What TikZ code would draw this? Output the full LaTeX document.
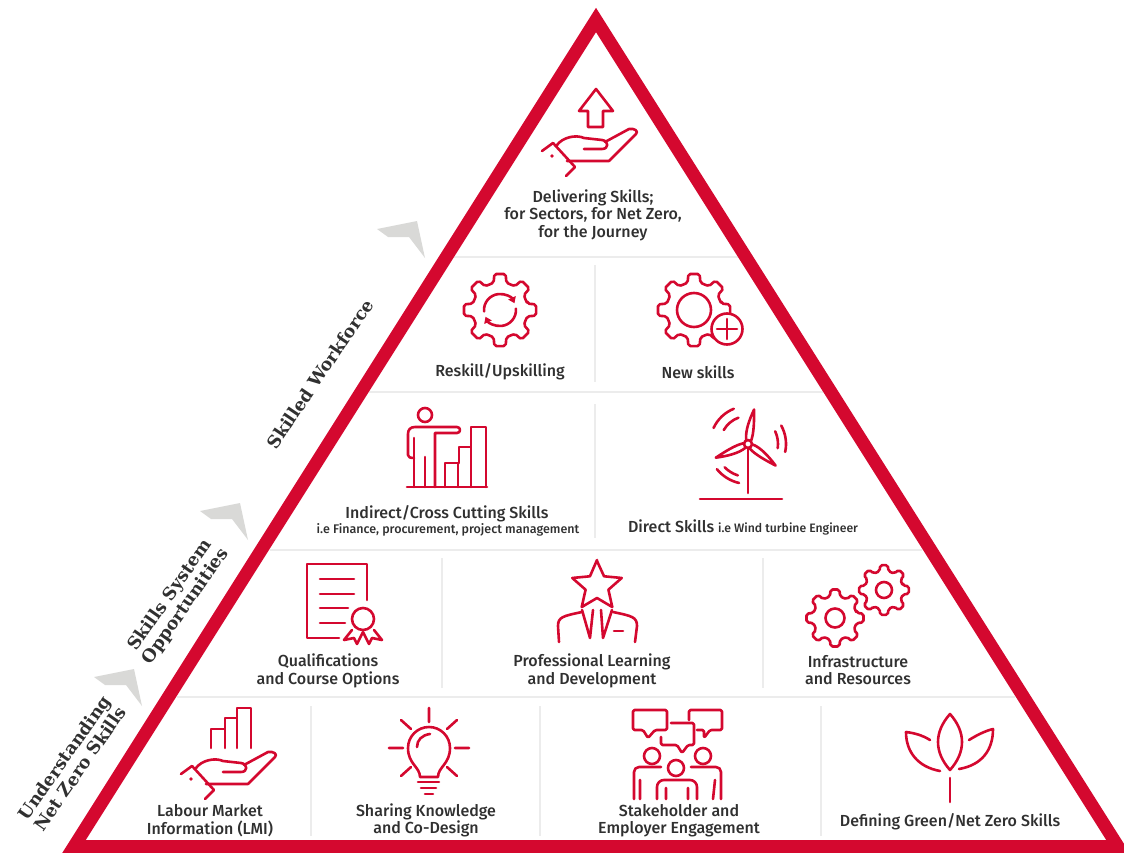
\documentclass[tikz,border=0pt]{standalone}
\usepackage{xcolor}
\usepackage{fontspec}
\setmainfont{Fira Sans Medium}
\newfontfamily\slabfont{DejaVu Serif}
\usetikzlibrary{arrows.meta}
\definecolor{pyrred}{HTML}{D4082F}
\definecolor{pyrgrey}{HTML}{ECECEC}
\definecolor{chevgrey}{HTML}{D9D9D7}
\definecolor{pyrtext}{HTML}{303030}
\tikzset{
	icon/.style = {draw=pyrred, line width=2.6pt, line join=round, line cap=round},
	rowline/.style = {draw=pyrgrey, line width=2.6pt},
	colline/.style = {draw=pyrgrey, line width=1.8pt},
	chev/.style = {fill=chevgrey, draw=none},
	lbl/.style = {text=pyrtext, font=\fontsize{16}{17.4}\selectfont, align=center, inner sep=0pt},
	side/.style = {text=pyrtext, font=\slabfont\bfseries\fontsize{17.5}{19}\selectfont, align=center, inner sep=0pt},
	gearicon/.pic = {
		\draw[icon, rounded corners=2pt] (-13:28) \foreach \a in {0,45,...,315} {-- (\a-9:36.5) -- (\a+9:36.5) -- (\a+13:28) -- (\a+32:28)} -- cycle;
	},
	handicon/.pic = {
		\draw[icon] (-45,-2) -- (-34,-10) -- (-12,14) -- (-21,23);
		\fill[pyrred] (-35,3) circle (1.8);
		\draw[icon] (-30,-8) .. controls (-25,-15) and (-12,-19) .. (-3,-15) -- (15,-13) .. controls (22,-12) and (22,-4) .. (15,-4) -- (-3,-4);
		\draw[icon] (18,-11) -- (42,-24) .. controls (47,-25) and (52,-22) .. (49,-19) -- (22,8) -- (-20,8);
	}
}

\begin{document}
\begin{tikzpicture}[x=1pt, y=-1pt]
	\useasboundingbox (0,0) rectangle (1124,853);

	% row and column rules
	\draw[rowline] (454,257) -- (738,257);
	\draw[rowline] (369,392) -- (823,392);
	\draw[rowline] (270,550) -- (922,550);
	\draw[rowline] (177,697) -- (1015,697);
	\draw[colline] (595,265) -- (595,382);
	\draw[colline] (595,404) -- (595,538);
	\foreach \x in {442,763} \draw[colline] (\x,558) -- (\x,688);
	\foreach \x in {311,540,821} \draw[colline] (\x,706) -- (\x,836);

	\draw[pyrred, line width=13pt, line join=miter, miter limit=10] (596,20) -- (1118,846.5) -- (74,846.5) -- cycle;

	% chevrons
	\foreach \x/\y in {417/221,240/503,134/669}
		\fill[chev] (\x-40,\y+8) -- (\x,\y) -- (\x+8,\y+37) -- (\x-8,\y+16) -- (\x-29,\y+16) -- cycle;

	% top: delivering
	\draw[icon] (596,89) -- (613,111) -- (603,111) -- (603,127) -- (588,127) -- (588,111) -- (579,111) -- cycle;
	\pic at (587,153) {handicon};
	\node[lbl] (delivering) at (593,215) {Delivering Skills;\hspace{14pt}\\for Sectors, for Net Zero,\\for the Journey\hspace{8pt}};

	% reskill, new skills
	\pic at (500,310) {gearicon};
	\draw[icon, -{Triangle[length=6pt,width=8pt]}] (500,310) ++(175:16) arc[start angle=175, end angle=335, radius=16];
	\draw[icon, -{Triangle[length=6pt,width=8pt]}] (500,310) ++(-5:16) arc[start angle=-5, end angle=155, radius=16];
	\node[lbl] (reskill) at (500,372) {Reskill/Upskilling};
	\pic at (694,310) {gearicon};
	\draw[icon] (694,310) circle (17);
	\draw[icon, fill=white] (727,329) circle (15.5);
	\draw[icon] (717,329) -- (737,329) (727,319) -- (727,339);
	\node[lbl] (newskills) at (698,372) {New skills};

	% indirect
	\draw[icon] (425,415) circle (7);
	\draw[icon] (435,487) -- (435,433) -- (457,433) .. controls (461,433) and (461,427) .. (457,427) -- (415,427) .. controls (410,427) and (408,430) .. (408,434) -- (408,455) .. controls (408,457) and (410,458) .. (414,458);
	\draw[icon] (414,438) -- (414,487) (425,457) -- (425,487) (407,487) -- (487,487);
	\draw[icon] (445,487) -- (445,463) -- (458,463) -- (458,487) (459,463) -- (459,447) -- (471,447) -- (471,487) (471,447) -- (471,427) -- (486,427) -- (486,487);
	\node[lbl] (indirect) at (447,514) {Indirect/Cross Cutting Skills};
	\node[lbl, font=\fontsize{12.5}{13}\selectfont] (indirectsub) at (448,530) {i.e Finance, procurement, project management};

	% direct
	\coordinate (hub) at (748,444);
	\draw[icon] (hub) ++(0,5) -- (748,493) (700,499) -- (782,499);
	\foreach \a in {80,203,322}
		\draw[icon, shift={(hub)}, rotate=\a] (4,-2.5) .. controls (12,-5) and (24,-3) .. (35,0) .. controls (24,2) and (12,4) .. (4,2.5);
	\draw[icon] (hub) circle (4);
	\foreach \r/\s/\e in {38/205/248,28/210/250,38/-29/12,30/-25/8,40/103/141,33/108/135}
		\draw[icon] (hub) ++(\s:\r) arc[start angle=\s, end angle=\e, radius=\r];
	\node[lbl] (direct) at (743,527) {Direct Skills {\fontsize{12.2}{13}\selectfont i.e Wind turbine Engineer}};

	% qualifications
	\draw[icon] (367,600) -- (367,564) -- (307,564) -- (307,638) -- (339,638);
	\draw[icon] (320,579) -- (354,579) (320,594) -- (354,594) (320,608) -- (348,608) (320,623) -- (345,623);
	\draw[icon] (363,619) circle (11);
	\draw[icon] (352,630) -- (344,640) -- (354,638) -- (357,644) -- (363,632) (374,630) -- (382,640) -- (372,638) -- (369,644) -- (363,632);
	\node[lbl] (qualifications) at (328,671) {Qualifications\\and Course Options};

	% professional learning
	\draw[icon] (597,561) \foreach \i in {0,...,4} {-- ({597+12*cos(306+72*\i)},{586+12*sin(306+72*\i)}) -- ({597+26*cos(342+72*\i)},{586+26*sin(342+72*\i)})} -- cycle;
	\draw[icon] (559,642) -- (558,626) .. controls (558,617) and (563,616) .. (582,612);
	\draw[icon] (635,642) -- (637,626) .. controls (637,617) and (632,616) .. (613,612);
	\draw[icon] (582,610) -- (590,638) -- (593,610) (612,610) -- (603,638) -- (601,610);
	\draw[icon] (614,631) -- (623,631);
	\node[lbl] (professional) at (592,671) {Professional Learning\\and Development};

	% infrastructure
	\pic[scale=.79] at (835,618) {gearicon};
	\draw[icon] (835,618) circle (9.5);
	\pic[scale=.69] at (884,590) {gearicon};
	\draw[icon] (884,590) circle (8);
	\node[lbl] (infrastructure) at (858,670) {Infrastructure\\and Resources};

	% labour market
	\draw[icon] (211,748) -- (211,729) -- (225,729) -- (225,748) (225,729) -- (225,718) -- (237,718) -- (237,748) (237,718) -- (237,708) -- (251,708) -- (251,748);
	\pic at (226,776) {handicon};
	\node[lbl] (labour) at (210,820.5) {Labour Market\\Information (LMI)};

	% sharing knowledge
	\draw[icon] (429,708) -- (429,722) (389,748) -- (403,748) (455,748) -- (469,748) (401,720) -- (411,729) (457,720) -- (447,729) (401,776) -- (411,767) (457,776) -- (447,767);
	\draw[icon] (420,777) .. controls (420,767) and (408,764) .. (408,748) arc[start angle=180, end angle=360, radius=21] .. controls (450,764) and (438,767) .. (438,777) -- cycle;
	\draw[icon] (417,747) .. controls (417,740) and (422,735) .. (430,734);
	\draw[icon] (418,782) -- (439,782) (421,788) -- (436,788) (425,794) -- (433,794);
	\node[lbl] (sharing) at (426,820.5) {Sharing Knowledge\\and Co-Design};

	% stakeholder
	\draw[icon, rounded corners=1.5pt] (643,730) -- (633,730) -- (633,710) -- (667,710) -- (667,730) -- (655,730) -- (648,738) -- cycle;
	\draw[icon, rounded corners=1.5pt] (689,720) -- (689,710) -- (722,710) -- (722,730) -- (710,730) -- (704,738) -- (704,730) -- (697,730);
	\draw[icon, rounded corners=1.5pt] (671,723) -- (694,723) -- (694,745) -- (688,745) -- (682,753) -- (677,745) -- (661,745) -- (661,737);
	\draw[icon] (652,756) circle (8) (703,756) circle (8) (676,768) circle (8);
	\draw[icon, rounded corners=5pt] (634,799) -- (634,767) -- (661,767);
	\draw[icon, rounded corners=5pt] (721,799) -- (721,767) -- (691,767);
	\draw[icon, rounded corners=7pt] (657,799) -- (657,780) -- (697,780) -- (697,799);
	\draw[icon] (640,780) -- (640,799) (715,780) -- (713,799) (666,788) -- (666,799) (688,788) -- (688,799);
	\node[lbl] (stakeholder) at (679,820.5) {Stakeholder and\\Employer Engagement};

	% defining green
	\draw[icon] (950,714) .. controls (934,732) and (934,752) .. (950,770) .. controls (966,752) and (966,732) .. (950,714) -- cycle;
	\draw[icon] (950,778) -- (950,802);
	\draw[icon] (930,740) .. controls (922,735) and (914,733) .. (906,732) .. controls (906,752) and (918,767) .. (940,771);
	\draw[icon] (969,740) .. controls (977,735) and (985,731) .. (993,729) .. controls (993,750) and (982,765) .. (959,769);
	\node[lbl] (defining) at (950,822) {Defining Green/Net Zero Skills};

	% side labels
	\node[side, rotate=56] (workforce) at (320,374) {Skilled Workforce};
	\node[side, rotate=55] (opportunities) at (178,601) {Skills System\\Opportunities};
	\node[side, rotate=55] (understanding) at (72,763) {Understanding\\Net Zero Skills};
\end{tikzpicture}
\end{document}
